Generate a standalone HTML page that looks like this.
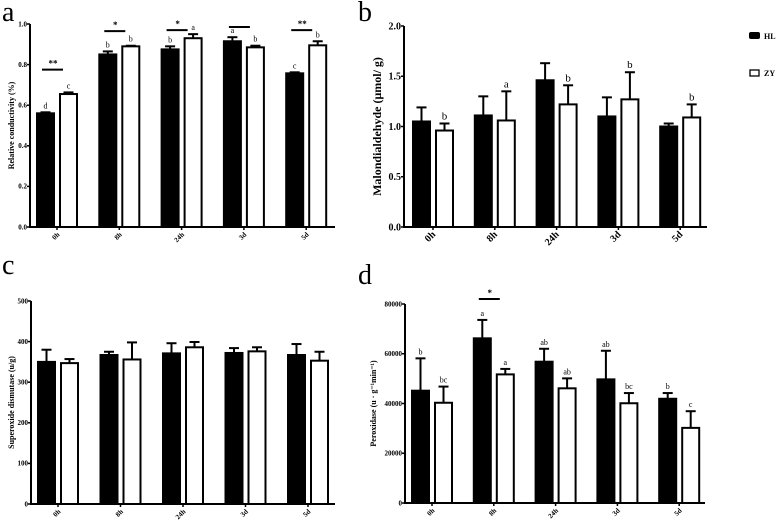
<!DOCTYPE html>
<html><head><meta charset="utf-8"><style>
body{margin:0;background:#fff}
svg{display:block;font-family:"Liberation Serif",serif;font-weight:bold}
</style></head><body>
<svg id="fig" width="777" height="524" viewBox="0 0 777 524">
<text x="2" y="21" font-size="28" font-weight="normal">a</text>
<text x="358" y="21" font-size="28" font-weight="normal">b</text>
<text x="2" y="274" font-size="28" font-weight="normal">c</text>
<text x="358" y="284" font-size="28" font-weight="normal">d</text>
<g>
<rect x="749" y="32" width="11" height="7" rx="2" fill="#000"/>
<text x="764" y="39" font-size="8">HL</text>
<rect x="750" y="70" width="9" height="6" fill="#fff" stroke="#000" stroke-width="1.3"/>
<text x="764" y="76" font-size="8">ZY</text>
</g>
</svg>
<script>
const categories = ["0h","8h","24h","3d","5d"];
// panel a: relative conductivity
const aHL = [0.56,0.85,0.875,0.915,0.757];
const aHLerr = [0.005,0.015,0.015,0.02,0.005];
const aZY = [0.655,0.89,0.93,0.885,0.895];
const aZYerr = [0.008,0.003,0.02,0.008,0.02];
const aHLlet = ["d","b","b","a","c"];
const aZYlet = ["c","b","a","b","b"];
const aTicks = ["0.0","0.2","0.4","0.6","0.8","1.0"];
const aSig = ["**","*","*","","**"];
const aSigY = [0.775,0.965,0.97,0.985,0.97];
// panel b: malondialdehyde
const bHL = [1.05,1.11,1.46,1.10,1.0];
const bHLerr = [0.14,0.19,0.17,0.19,0.03];
const bZY = [0.96,1.06,1.22,1.27,1.09];
const bZYerr = [0.07,0.29,0.19,0.27,0.13];
const bZYlet = ["b","a","b","b","b"];
const bTicks = ["0.0","0.5","1.0","1.5","2.0"];
// panel c: SOD
const cHL = [350,367,371,372,367];
const cHLerr = [30,8,25,12,27];
const cZY = [347,356,386,376,353];
const cZYerr = [10,42,13,10,22];
const cTicks = ["0","100","200","300","400","500"];
// panel d: peroxidase
const dHL = [45150,66200,56800,49700,41900];
const dHLerr = [13000,7400,5200,11500,2300];
const dZY = [40300,51700,46100,40100,30200];
const dZYerr = [6500,2200,4000,4100,6700];
const dHLlet = ["b","a","ab","ab","b"];
const dZYlet = ["bc","a","ab","bc","c"];
const dTicks = ["0","20000","40000","60000","80000"];
const dSig = ["","*","","",""];
const dSigY = [0,82000,0,0,0];

const NS="http://www.w3.org/2000/svg";
const svg=document.getElementById('fig');
function mk(tag,attrs,parent){const e=document.createElementNS(NS,tag);for(const k in attrs)e.setAttribute(k,attrs[k]);(parent||svg).appendChild(e);return e;}

function panel(o){
  const g=mk('g',{});
  
  
  const max=o.max;
  const y=v=>o.yb-(v/max)*(o.yb-o.yt);
  const cx=i=>o.c0+i*o.step;
  // axes
  const ya=mk('line',{x1:o.ax,y1:o.yt,x2:o.ax,y2:o.yb+1,stroke:'#000','stroke-width':2},g);
  
  
  const xa=mk('line',{x1:o.ax-1,y1:o.yb,x2:o.xe,y2:o.yb,stroke:'#000','stroke-width':2},g);
  
  
  o.ticks.forEach((t,i)=>{
    const v=parseFloat(t);const yy=y(v);
    mk('line',{x1:o.ax-3,y1:yy,x2:o.ax,y2:yy,stroke:'#000','stroke-width':1.5},g);
    const tx=mk('text',{x:o.ax-3,y:yy+o.tf/3,'font-size':o.tf,'text-anchor':'end'},g);
    tx.textContent=t;
    
    
  });
  const yl=mk('text',{x:0,y:0,'font-size':o.lf,'text-anchor':'middle',transform:`translate(${o.lx},${(o.yt+o.yb)/2}) rotate(-90)`},g);
  yl.textContent=o.label;
  
  
  categories.forEach((c,i)=>{
    const x=cx(i);
    mk('line',{x1:x,y1:o.yb,x2:x,y2:o.yb+3,stroke:'#000','stroke-width':1.5},g);
    const t=mk('text',{x:0,y:0,'font-size':o.xf,'text-anchor':'end',transform:`translate(${x+3},${o.yb+8}) rotate(-45)`},g);
    t.textContent=c;
    
    
    [[o.hl,o.hle,'#000',-20,o.hll],[o.zy,o.zye,'#fff',3,o.zyl]].forEach((s,k)=>{
      const v=s[0][i],e=s[1][i];const bx=x+s[3];const w=17;
      mk('line',{x1:bx+w/2,y1:y(v),x2:bx+w/2,y2:y(v+e),stroke:'#000','stroke-width':2},g);
      mk('line',{x1:bx+w/2-5,y1:y(v+e),x2:bx+w/2+5,y2:y(v+e),stroke:'#000','stroke-width':2},g);
      const r=mk('rect',{x:bx,y:y(v),width:w,height:o.yb-y(v),fill:s[2],stroke:'#000','stroke-width':2},g);
      
      
      if(s[4]&&s[4][i]){
        const lt=mk('text',{x:bx+w/2,y:y(v+e)-4,'font-size':o.tf+1,'text-anchor':'middle','font-weight':'normal'},g);
        lt.textContent=s[4][i];
        
        
      }
    });
    if(o.sig&&o.sigY[i]){
      const sy=y(o.sigY[i]);
      const sl=mk('line',{x1:x-15,y1:sy,x2:x+6,y2:sy,stroke:'#000','stroke-width':2},g);
      
      
      if(o.sig[i]){const st=mk('text',{x:x-4,y:sy-3,'font-size':9,'text-anchor':'middle'},g);st.textContent=o.sig[i];
        
        }
    }
  });
}
panel({id:'a',ax:30,xe:335,yt:24,yb:227,max:1.0,c0:57,step:62.3,ticks:aTicks,tf:7,lf:8,xf:7,lx:14,label:'Relative conductivity (%)',hl:aHL,hle:aHLerr,zy:aZY,zye:aZYerr,hll:aHLlet,zyl:aZYlet,sig:aSig,sigY:aSigY});
panel({id:'b',ax:404,xe:707,yt:26,yb:227,max:2.0,c0:433,step:61.8,ticks:bTicks,tf:10,lf:12,xf:10,lx:381,label:'Malondialdehyde (μmol/ g)',hl:bHL,hle:bHLerr,zy:bZY,zye:bZYerr,hll:null,zyl:bZYlet});
panel({id:'c',ax:31,xe:335,yt:301,yb:504,max:500,c0:58,step:62.5,ticks:cTicks,tf:7,lf:8,xf:7,lx:14,label:'Superoxide dismutase (u/g)',hl:cHL,hle:cHLerr,zy:cZY,zye:cZYerr});
panel({id:'d',ax:405,xe:705,yt:304,yb:503,max:80000,c0:432,step:61.8,ticks:dTicks,tf:7,lf:8,xf:7,lx:376,label:'Peroxidase (u · g⁻¹min⁻¹)',hl:dHL,hle:dHLerr,zy:dZY,zye:dZYerr,hll:dHLlet,zyl:dZYlet,sig:dSig,sigY:dSigY});
</script>
</body></html>
